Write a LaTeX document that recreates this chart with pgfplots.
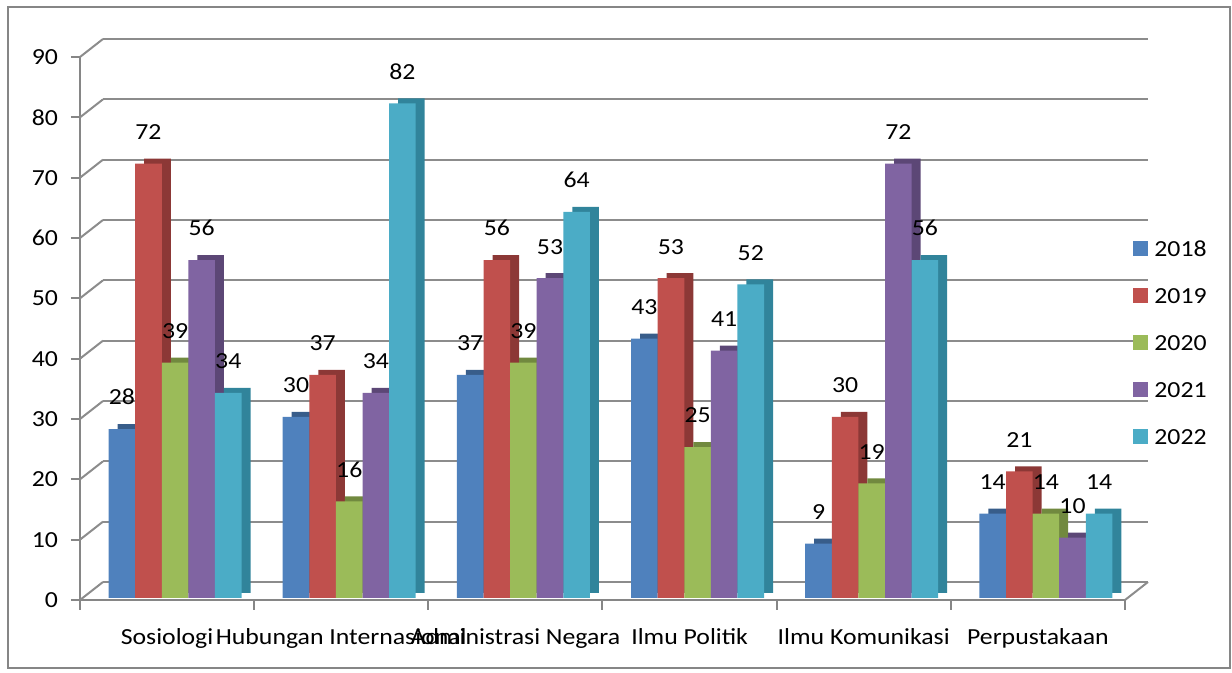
\documentclass[border=0pt]{standalone}
\usepackage{pgfplots}
\pgfplotsset{compat=1.18}
\usepackage{pgfplotstable}
\usepackage{fontspec}
\setmainfont{Carlito}[FakeStretch=1.12]
\definecolor{cA}{HTML}{4F81BD}
\definecolor{cB}{HTML}{C0504D}
\definecolor{cC}{HTML}{9BBB59}
\definecolor{cD}{HTML}{8064A2}
\definecolor{cE}{HTML}{4BACC6}
\definecolor{dA}{HTML}{385D8A}
\definecolor{dB}{HTML}{8C3836}
\definecolor{dC}{HTML}{71893F}
\definecolor{dD}{HTML}{5C4776}
\definecolor{dE}{HTML}{31849B}
\definecolor{gridgray}{HTML}{8C8C8C}
\definecolor{axisgray}{HTML}{868686}
\pgfplotstableread{
x y2018 y2019 y2020 y2021 y2022
0 28 72 39 56 34
1 30 37 16 34 82
2 37 56 39 53 64
3 43 53 25 41 52
4 9 30 19 72 56
5 14 21 14 10 14
}\datatab
\newcommand{\lblfont}{\fontsize{11.5}{13}\selectfont}
\begin{document}
\begin{tikzpicture}
\useasboundingbox (-40pt,-36.5pt) rectangle (576pt,300pt);
\draw[axisgray, line width=1pt] (-36pt,-34pt) rectangle (575pt,296.5pt);
\begin{axis}[
  at={(0,0)}, anchor=south west,
  scale only axis, width=522.5pt, height=271.5pt,
  xmin=-0.5, xmax=5.5, ymin=0, ymax=90,
  clip=false,
  axis x line*=bottom, axis y line*=left,
  axis line style={draw=axisgray, line width=1pt},
  xtick={0,...,5},
  xticklabels={Sosiologi, Hubungan Internasional, Administrasi Negara, Ilmu Politik, Ilmu Komunikasi, Perpustakaan},
  xtick style={draw=none},
  ytick={0,10,...,90},
  ytick style={draw=axisgray, line width=1pt},
  tick align=outside, major tick length=4.5pt,
  ymajorgrids,
  major grid style={draw=gridgray, line width=1pt, xshift=11.5pt, yshift=9pt},
  tick label style={font=\lblfont, text=black},
  /pgf/number format/assume math mode=true,
  yticklabel style={xshift=-3pt},
  xticklabel style={yshift=-6pt},
  bar width=13.3pt,
  legend cell align=left,
  legend style={at={(1,0.669)}, anchor=north west, xshift=4pt, draw=none, fill=none,
     font=\lblfont, row sep=10.5pt, inner sep=0pt,
     /tikz/every odd column/.append style={column sep=1pt}},
  legend image code/.code={\fill[#1] (0pt,-3.75pt) rectangle (7.5pt,3.75pt);},
  every node near coord/.append style={font=\lblfont, text=black, yshift=8.5pt},
]
% depth (side/top faces)
\addplot[ybar, forget plot, fill=dA, draw=none, bar shift=-22.6pt, xshift=4.5pt, yshift=3.5pt] table[x=x,y=y2018] {\datatab};
\addplot[ybar, forget plot, fill=dB, draw=none, bar shift=-9.3pt, xshift=4.5pt, yshift=3.5pt] table[x=x,y=y2019] {\datatab};
\addplot[ybar, forget plot, fill=dC, draw=none, bar shift=4pt, xshift=4.5pt, yshift=3.5pt] table[x=x,y=y2020] {\datatab};
\addplot[ybar, forget plot, fill=dD, draw=none, bar shift=17.3pt, xshift=4.5pt, yshift=3.5pt] table[x=x,y=y2021] {\datatab};
\addplot[ybar, forget plot, fill=dE, draw=none, bar shift=30.6pt, xshift=4.5pt, yshift=3.5pt] table[x=x,y=y2022] {\datatab};
% front faces
\addplot[ybar, fill=cA, draw=none, bar shift=-22.6pt, yshift=1pt, nodes near coords,
  every node near coord/.append style={xshift=-22.6pt}] table[x=x,y=y2018] {\datatab};
\addplot[ybar, fill=cB, draw=none, bar shift=-9.3pt, yshift=1pt, nodes near coords,
  every node near coord/.append style={xshift=-9.3pt}] table[x=x,y=y2019] {\datatab};
\addplot[ybar, fill=cC, draw=none, bar shift=4pt, yshift=1pt, nodes near coords,
  every node near coord/.append style={xshift=4pt}] table[x=x,y=y2020] {\datatab};
\addplot[ybar, fill=cD, draw=none, bar shift=17.3pt, yshift=1pt, nodes near coords,
  every node near coord/.append style={xshift=17.3pt}] table[x=x,y=y2021] {\datatab};
\addplot[ybar, fill=cE, draw=none, bar shift=30.6pt, yshift=1pt, nodes near coords,
  every node near coord/.append style={xshift=30.6pt}] table[x=x,y=y2022] {\datatab};
\legend{2018,2019,2020,2021,2022}
\pgfplotsinvokeforeach{0,10,20,30,40,50,60,70,80,90}{
  \draw[gridgray, line width=1pt] (axis cs:-0.5,#1) -- ++(11.5pt,9pt);
}
\draw[gridgray, line width=1pt] (axis cs:5.5,0) -- ++(11.5pt,9pt);
\pgfplotsinvokeforeach{-0.5,0.5,1.5,2.5,3.5,4.5,5.5}{
  \draw[axisgray, line width=1pt] (axis cs:#1,0) -- ++(0pt,-5pt);
}
\end{axis}
\end{tikzpicture}
\end{document}
